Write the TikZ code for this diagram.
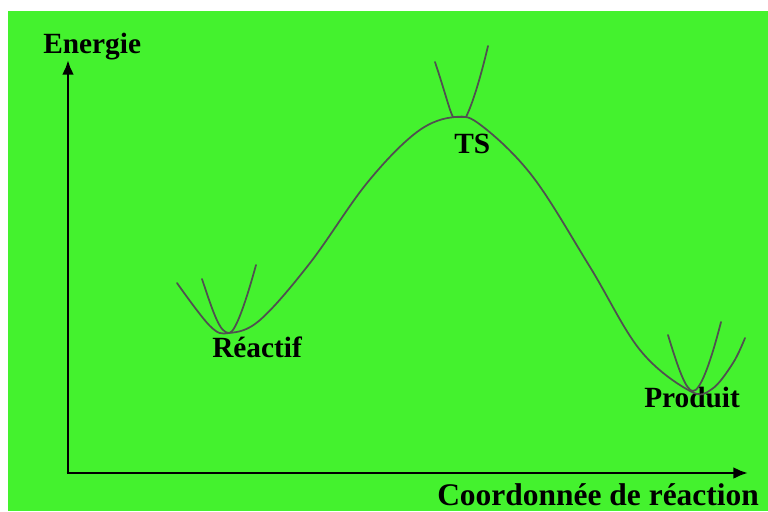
\documentclass[tikz,border=0pt]{standalone}
\usepackage{fontspec}
\setmainfont{Liberation Serif}
\usepackage{tikz}
\usetikzlibrary{shapes, arrows.meta, positioning}
\definecolor{bggreen}{RGB}{68,242,46}
\definecolor{curvegray}{RGB}{80,80,80}

\begin{document}
\begin{tikzpicture}[x=0.75pt, y=-0.75pt, thin]

\tikzstyle{label} = [inner sep=0pt, anchor=base west, font=\fontsize{22}{26}\selectfont\bfseries]
\tikzstyle{axis} = [line width=2.2pt, -{Latex[length=11pt, width=9pt]}]
\tikzstyle{curve} = [curvegray, line width=1.3pt, line cap=round, line join=round]

\useasboundingbox (0,0) rectangle (768,511);
\fill[bggreen] (8,11) rectangle (768,511);

% Axes
\coordinate (origin) at (68,473);
\coordinate (ytop) at (68,60);
\coordinate (xend) at (748,473);
\draw[axis] (origin) -- (ytop);
\draw[axis] ([xshift=-1.1pt]origin) -- (xend);

% Nodes
\node[label] (energie) at (43,53) {Energie};
\node[label, font=\fontsize{23.6}{28}\selectfont\bfseries] (coord) at (437,505) {Coordonnée de réaction};
\node[label] (reactif) at (212,357) {Réactif};
\node[label] (ts) at (454,153) {TS};
\node[label] (produit) at (644,407) {Produit};

% Energy profile
\draw[curve] plot[smooth, tension=0.6] coordinates {
  (177,283) (210,326) (229,333) (260,320) (310,263) (367,183)
  (417,132) (455,117) (482,126) (533,177) (590,267) (640,350)
  (690,391) (712,389) (733,363) (745,338)};

% Harmonic wells
\draw[curve] (202,279) .. controls (214,315) and (220,333) .. (229,333)
  .. controls (235,333) and (245,305) .. (256,265);
\draw[curve] (435,62) .. controls (445,92) and (450,112) .. (453,117)
  -- (466,117) .. controls (472,105) and (480,80) .. (488,46);
\draw[curve] (668,335) .. controls (678,368) and (686,391) .. (693,391)
  .. controls (700,391) and (710,365) .. (721,322);

\end{tikzpicture}
\end{document}
